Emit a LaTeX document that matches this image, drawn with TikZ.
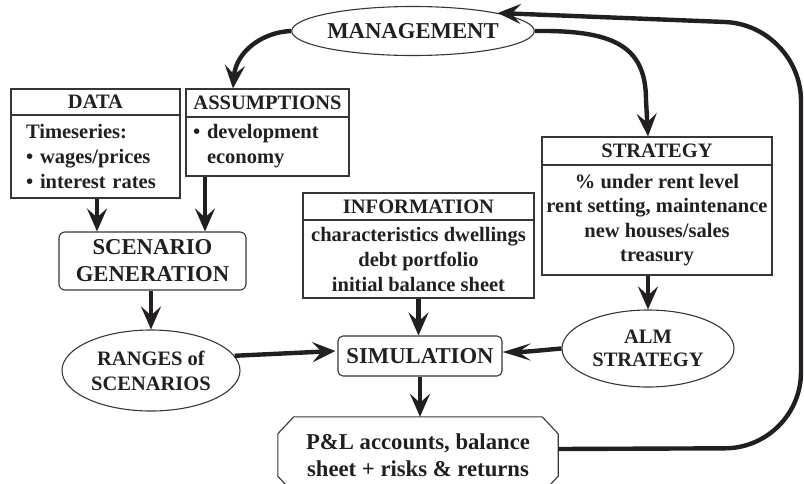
\documentclass[tikz,border=0pt]{standalone}
\usepackage{fontspec}
\setmainfont{Liberation Serif}
\usetikzlibrary{arrows.meta,calc,shapes.geometric}
\definecolor{ink}{HTML}{231F20}
\tikzset{
  base/.style={font=\bfseries\fontsize{20.5}{25}\selectfont, text=ink, inner sep=0pt},
  big/.style={font=\bfseries\fontsize{22.7}{27}\selectfont, text=ink, inner sep=0pt},
  boxed/.style={draw=ink!90, line width=1.1pt, shape=rectangle},
  roundbox/.style={draw=ink!90, line width=1.1pt, shape=rectangle, rounded corners=6pt},
  oval/.style={draw=ink!90, line width=1.1pt, shape=ellipse, inner sep=0pt},
  thinline/.style={draw=ink!90, line width=1.1pt},
  arr/.style={line width=4.4pt, draw=ink, -{Stealth[length=23pt,width=20pt,inset=9pt]}},
  longarr/.style={line width=4.4pt, draw=ink, -{Stealth[length=28pt,width=17pt,inset=12pt]}},
}
\begin{document}
\begin{tikzpicture}[x=1pt,y=-1pt]
\useasboundingbox (0,0) rectangle (804,483);
\clip (0,0) rectangle (804,483);

% helper x positions
\coordinate (xA) at (233,0);
\coordinate (xB) at (205,0);
\coordinate (xD) at (97,0);

% MANAGEMENT
\node[big,oval,minimum width=214pt,minimum height=49pt] (MGMT) at (413,31) {MANAGEMENT};

% DATA
\node[base,boxed,minimum width=169pt,minimum height=26pt] (DATAh) at (95.5,102) {DATA};
\node[base,boxed,minimum width=169pt,minimum height=83pt,align=left,text width=139pt] (DATAb) at (95.5,156.5)
  {Timeseries:\\\textbullet{} wages/prices\\\textbullet{} interest rates};

% ASSUMPTIONS
\node[base,boxed,minimum width=163pt,minimum height=28pt] (ASSh) at (267.5,103) {ASSUMPTIONS};
\node[base,boxed,minimum width=163pt,minimum height=59pt,align=left,text width=149pt] (ASSb) at (267.5,146.5)
  {\textbullet{} development\\\phantom{\textbullet{} }economy};

% INFORMATION
\node[base,boxed,minimum width=231pt,minimum height=27pt] (INFOh) at (418.5,206.5) {INFORMATION};
\node[base,boxed,minimum width=231pt,minimum height=78pt,align=center] (INFOb) at (418.5,259)
  {characteristics dwellings\\debt portfolio\\initial balance sheet};

% STRATEGY
\node[base,boxed,minimum width=230pt,minimum height=28pt] (STRh) at (657,151) {STRATEGY};
\node[base,boxed,minimum width=230pt,minimum height=110pt,align=center,font=\bfseries\fontsize{20.5}{24.4}\selectfont] (STRb) at (657,220)
  {\% under rent level\\rent setting, maintenance\\new houses/sales\\treasury};

% SCENARIO GENERATION
\node[big,roundbox,minimum width=187pt,minimum height=58pt,align=center] (SCEN) at (152.5,261)
  {SCENARIO\\GENERATION};

% RANGES of SCENARIOS
\node[base,oval,minimum width=178pt,minimum height=81pt,align=center] (RANG) at (151,370.5)
  {RANGES of\\SCENARIOS};

% SIMULATION
\node[big,roundbox,rounded corners=5pt,minimum width=164pt,minimum height=40pt] (SIM) at (420,356) {SIMULATION};

% ALM STRATEGY
\node[base,oval,minimum width=172pt,minimum height=77pt,align=center,font=\bfseries\fontsize{20.5}{23}\selectfont] (ALM) at (648,348.5)
  {ALM\\STRATEGY};

% P&L
\node[big,minimum width=280pt,minimum height=76pt,align=center] (PL) at (418,455)
  {P\&L accounts, balance\\sheet + risks \& returns};
\draw[thinline] ($(PL.north west)+(16,0)$) -- ($(PL.north east)+(-16,0)$) -- ($(PL.north east)+(0,17)$)
  -- ($(PL.south east)+(0,-17)$) -- ($(PL.south east)+(-16,0)$) -- ($(PL.south west)+(16,0)$)
  -- ($(PL.south west)+(0,-17)$) -- ($(PL.north west)+(0,17)$) -- cycle;

% connectors
\draw[arr] (MGMT.west) .. controls (262,32) and (236,52) .. (ASSh.north -| xA);
\draw[arr] (MGMT.east) .. controls (612,30) and (646,45) .. (646,100) -- (ALM.north |- STRh.north);
\draw[arr, rounded corners=76pt] ($(PL.east)+(0,-6)$) -- (801,448) -- (801,25) -- (MGMT.12);
\draw[arr] (DATAb.south -| xD) -- (SCEN.north -| xD);
\draw[arr] (ASSb.south -| xB) -- (SCEN.north -| xB);
\draw[arr] (SCEN.south -| RANG.north) -- (RANG.north);
\draw[arr] (RANG.10) -- ($(SIM.west)+(-2,-5)$);
\draw[arr] (INFOb.south) -- (INFOb.south |- SIM.north);
\draw[arr] (ALM.north |- STRb.south) -- (ALM.north);
\draw[longarr] (ALM.west) to[out=185,in=0] ($(SIM.east)+(0,-4)$);
\draw[arr] (SIM.south) -- (SIM.south |- PL.north);
\end{tikzpicture}
\end{document}
